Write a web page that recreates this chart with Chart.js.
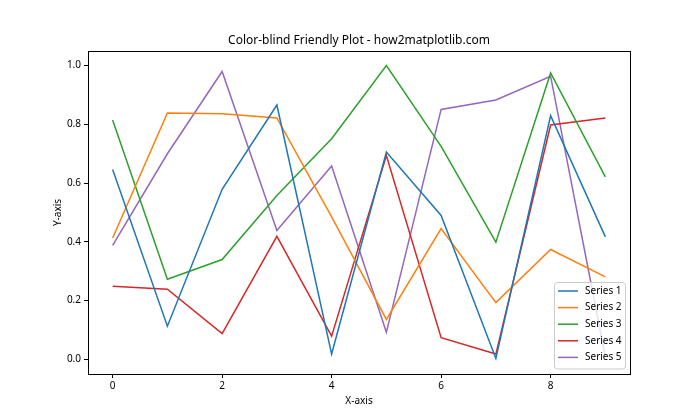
<!DOCTYPE html>
<html>
<head>
<meta charset="utf-8">
<script src="https://cdn.jsdelivr.net/npm/chart.js@4"></script>
<style>
  html, body { margin: 0; padding: 0; background: #fff; }
  #wrap { width: 700px; height: 420px; position: relative; }
</style>
</head>
<body>
<div id="wrap"><canvas id="c" width="700" height="420"></canvas></div>
<script>
const xValues = [0, 1, 2, 3, 4, 5, 6, 7, 8, 9];
const series1 = [0.646, 0.113, 0.579, 0.866, 0.018, 0.706, 0.490, 0.003, 0.830, 0.417];
const series2 = [0.413, 0.839, 0.836, 0.822, 0.485, 0.136, 0.445, 0.193, 0.374, 0.281];
const series3 = [0.815, 0.273, 0.340, 0.558, 0.751, 1.000, 0.725, 0.399, 0.975, 0.621];
const series4 = [0.249, 0.239, 0.088, 0.419, 0.079, 0.694, 0.074, 0.018, 0.798, 0.822];
const series5 = [0.388, 0.700, 0.980, 0.439, 0.658, 0.092, 0.851, 0.883, 0.964, 0.008];
const seriesNames = ['Series 1', 'Series 2', 'Series 3', 'Series 4', 'Series 5'];
const seriesColors = ['#1f77b4', '#ff7f0e', '#2ca02c', '#d62728', '#9467bd'];
const xTicks = [0, 2, 4, 6, 8];
const yTicks = [0.0, 0.2, 0.4, 0.6, 0.8, 1.0];
const titleText = 'Color-blind Friendly Plot - how2matplotlib.com';
const xLabel = 'X-axis';
const yLabel = 'Y-axis';

const FONT = '"Noto Sans", "Open Sans", sans-serif';
const allSeries = [series1, series2, series3, series4, series5];

const datasets = allSeries.map((s, i) => ({
  label: seriesNames[i],
  data: xValues.map((x, j) => ({ x: x, y: s[j] })),
  borderColor: seriesColors[i],
  backgroundColor: seriesColors[i],
  borderWidth: 1.5,
  pointRadius: 0,
  fill: false,
  tension: 0
}));

const decorPlugin = {
  id: 'decor',
  afterDraw(chart) {
    const ctx = chart.ctx;
    const a = chart.chartArea;
    ctx.save();
    // frame
    ctx.strokeStyle = '#000';
    ctx.lineWidth = 1;
    ctx.strokeRect(Math.round(a.left) + 0.5, Math.round(a.top) + 0.5,
                   Math.round(a.right - a.left), Math.round(a.bottom - a.top));
    // title
    ctx.fillStyle = '#000';
    ctx.font = '12px ' + FONT;
    ctx.textAlign = 'center';
    ctx.textBaseline = 'middle';
    ctx.fillText(titleText, (a.left + a.right) / 2, 41);
    // axis labels
    ctx.font = '10px ' + FONT;
    ctx.fillText(xLabel, (a.left + a.right) / 2, 401);
    ctx.save();
    ctx.translate(58, (a.top + a.bottom) / 2);
    ctx.rotate(-Math.PI / 2);
    ctx.fillText(yLabel, 0, 0);
    ctx.restore();
    // legend
    const lx = 554.5, ly = 282.5, lw = 71, lh = 86.5;
    ctx.beginPath();
    if (ctx.roundRect) ctx.roundRect(lx, ly, lw, lh, 3); else ctx.rect(lx, ly, lw, lh);
    ctx.fillStyle = 'rgba(255,255,255,0.8)';
    ctx.fill();
    ctx.strokeStyle = '#cccccc';
    ctx.lineWidth = 1;
    ctx.stroke();
    ctx.font = '10px ' + FONT;
    ctx.textAlign = 'left';
    chart.data.datasets.forEach((ds, i) => {
      const y = 291 + i * 16.6;
      ctx.beginPath();
      ctx.moveTo(558, y);
      ctx.lineTo(578, y);
      ctx.strokeStyle = ds.borderColor;
      ctx.lineWidth = 1.5;
      ctx.stroke();
      ctx.fillStyle = '#000';
      ctx.fillText(ds.label, 585, y);
    });
    ctx.restore();
  }
};

new Chart(document.getElementById('c'), {
  type: 'line',
  data: { datasets: datasets },
  options: {
    responsive: false,
    animation: false,
    devicePixelRatio: 1,
    layout: { padding: { left: 0, top: 51, right: 70, bottom: 0 } },
    plugins: {
      legend: { display: false },
      title: { display: false },
      tooltip: { enabled: false }
    },
    scales: {
      x: {
        type: 'linear',
        min: -0.45,
        max: 9.45,
        afterBuildTicks: (s) => { s.ticks = xTicks.map(v => ({ value: v })); },
        afterFit: (s) => { s.height = 46; },
        grid: { drawOnChartArea: false, drawTicks: true, tickLength: 4, color: '#000', tickColor: '#000' },
        border: { display: false },
        ticks: { color: '#000', font: { family: FONT, size: 10 }, padding: 2, maxRotation: 0, callback: (v) => String(v) }
      },
      y: {
        type: 'linear',
        min: -0.0499,
        max: 1.0499,
        afterBuildTicks: (s) => { s.ticks = yTicks.map(v => ({ value: v })); },
        afterFit: (s) => { s.width = 88; },
        grid: { drawOnChartArea: false, drawTicks: true, tickLength: 4, color: '#000', tickColor: '#000' },
        border: { display: false },
        ticks: { color: '#000', font: { family: FONT, size: 10 }, padding: 3, callback: (v) => v.toFixed(1) }
      }
    }
  },
  plugins: [decorPlugin]
});
</script>
</body>
</html>
